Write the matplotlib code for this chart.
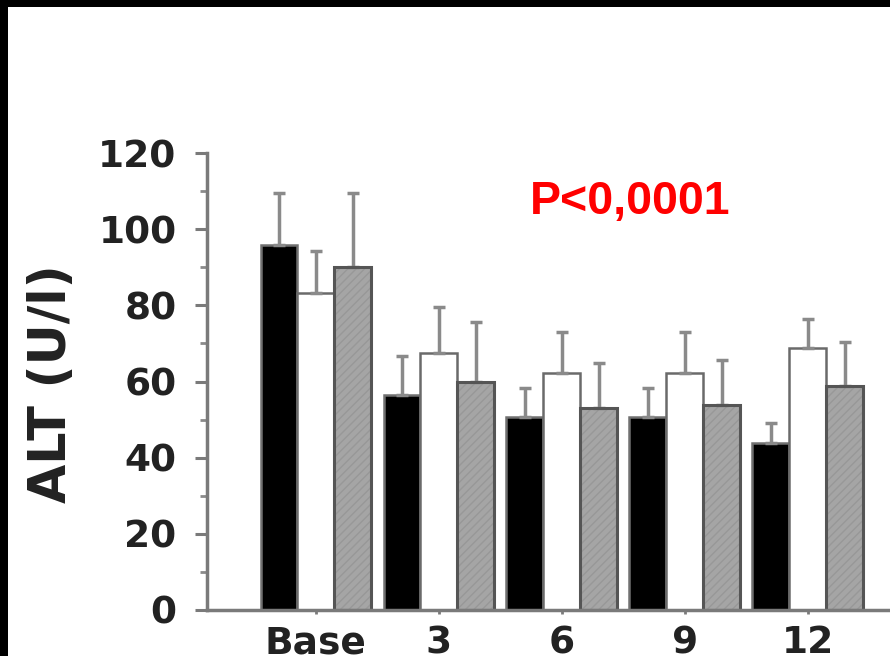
import matplotlib
matplotlib.use("Agg")
import matplotlib.pyplot as plt
import numpy as np
from matplotlib.patches import Rectangle
from matplotlib.ticker import MultipleLocator

categories = ["Base", "3", "6", "9", "12"]
black_vals = [95.8, 56.4, 50.7, 50.7, 43.8]
black_err = [13.6, 10.3, 7.6, 7.6, 5.2]
white_vals = [83.2, 67.5, 62.2, 62.2, 68.8]
white_err = [11.0, 12.0, 10.8, 10.8, 7.6]
grey_vals = [90.0, 60.0, 53.0, 53.8, 58.8]
grey_err = [19.4, 15.6, 11.8, 11.8, 11.5]
yticks = [0, 20, 40, 60, 80, 100, 120]

W, H = 890, 656
fig = plt.figure(figsize=(W / 100, H / 100), dpi=100, facecolor="black")
fig.patches.append(Rectangle((8 / W, 0), 1, 1 - 7 / H, transform=fig.transFigure,
                             facecolor="white", edgecolor="none", zorder=-10))

ax = fig.add_axes([207 / W, 1 - 610 / H, (890 - 207) / W, (610 - 153) / H])
ax.set_facecolor("white")

x = np.arange(len(categories))
bw = 0.3
ecol = "#8a8a8a"
ekw = dict(ecolor=ecol, elinewidth=2.5, capsize=4.5, capthick=2.5)

def upper(err):
    return [np.zeros(len(err)), err]

ax.bar(x - bw, black_vals, bw, color="black", edgecolor="#707070", linewidth=1.8,
       yerr=upper(black_err), error_kw=ekw, zorder=3)
ax.bar(x, white_vals, bw, color="white", edgecolor="#6a6a6a", linewidth=1.8,
       yerr=upper(white_err), error_kw=ekw, zorder=3)
ax.bar(x + bw, grey_vals, bw, color="#a5a5a5", edgecolor="#989898", linewidth=0,
       hatch="////", yerr=upper(grey_err), error_kw=ekw, zorder=3)
ax.bar(x + bw, grey_vals, bw, fill=False, edgecolor="#555555", linewidth=2.2, zorder=4)

ax.set_xlim(-0.886, 4.67)
ax.set_ylim(0, 120)

for s in ["top", "right"]:
    ax.spines[s].set_visible(False)
for s in ["left", "bottom"]:
    ax.spines[s].set_color("#7a7a7a")
    ax.spines[s].set_linewidth(2.5)
ax.spines["bottom"].set_zorder(5)

ax.set_yticks(yticks)
ax.set_yticklabels([str(t) for t in yticks])
ax.yaxis.set_minor_locator(MultipleLocator(10))
ax.set_xticks(x)
ax.set_xticklabels(categories)

ax.tick_params(axis="y", which="major", length=9, width=2.2, color="#7a7a7a",
               pad=13, labelsize=27, labelcolor="#222222")
ax.tick_params(axis="y", which="minor", length=5, width=2, color="#8a8a8a")
ax.tick_params(axis="x", which="major", length=3, width=2, color="#7a7a7a",
               pad=8, labelsize=27, labelcolor="#222222")
for lab in ax.get_xticklabels() + ax.get_yticklabels():
    lab.set_fontweight("bold")

fig.text(52 / W, 1 - 384 / H, "ALT (U/l)", rotation=90, ha="center", va="center",
         fontsize=36.5, fontweight="bold", color="#222222")

fig.text(530 / W, 1 - 214 / H, "P<0,0001", ha="left", va="baseline",
         fontsize=33.5, fontweight="bold", color="#ff0000",
         family=["Liberation Sans", "DejaVu Sans"])

fig.savefig("out.png", dpi=100, facecolor=fig.get_facecolor())
